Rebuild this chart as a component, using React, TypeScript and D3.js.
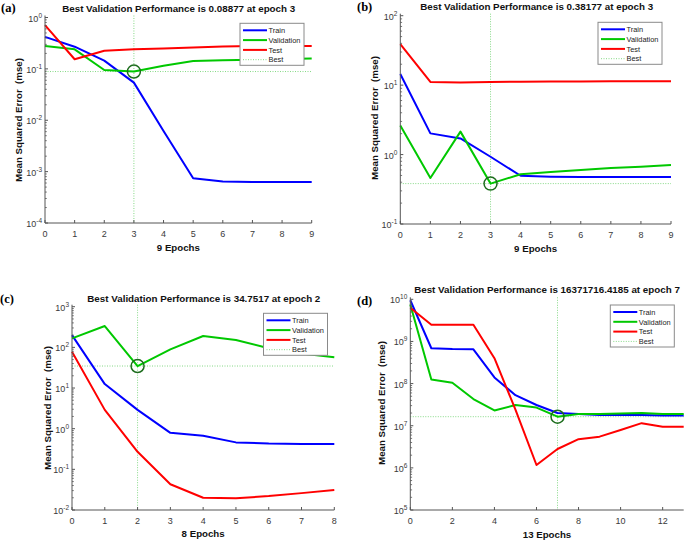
import React from 'react';
import * as d3 from 'd3';

// ---------- data ----------
const seriesNames = ['Train', 'Validation', 'Test', 'Best'];

const trainA = [0.42, 0.27, 0.145, 0.054, 0.0062, 0.00074, 0.00064, 0.00063, 0.00063, 0.00063];
const valA = [0.28, 0.24, 0.095, 0.08877, 0.115, 0.142, 0.148, 0.151, 0.155, 0.16];
const testA = [0.71, 0.154, 0.225, 0.24, 0.25, 0.262, 0.272, 0.278, 0.28, 0.28];

const trainB = [14.5, 2.02, 1.71, 0.93, 0.495, 0.48, 0.475, 0.475, 0.475, 0.475];
const valB = [2.63, 0.46, 2.14, 0.38177, 0.52, 0.56, 0.6, 0.64, 0.67, 0.71];
const testB = [39, 11.1, 10.9, 11.1, 11.2, 11.3, 11.3, 11.4, 11.4, 11.4];

const trainC = [200, 12.5, 2.9, 0.79, 0.67, 0.46, 0.43, 0.42, 0.42];
const valC = [166, 335, 34.7517, 89, 190, 151, 95, 71, 57];
const testC = [78, 2.9, 0.27, 0.043, 0.02, 0.0195, 0.022, 0.026, 0.031];

const trainD = [9.5e9, 6.9e8, 6.6e8, 6.5e8, 1.4e8, 5.3e7, 3.1e7, 2.0e7, 1.9e7, 1.8e7, 1.8e7, 1.8e7, 1.75e7, 1.75e7];
const valD = [7.5e9, 1.25e8, 1.05e8, 4.3e7, 2.3e7, 3.1e7, 2.7e7, 16371716.4185, 1.9e7, 1.9e7, 1.95e7, 2.0e7, 1.9e7, 1.9e7];
const testD = [6.3e9, 2.5e9, 2.5e9, 2.5e9, 4e8, 2.4e7, 1.17e6, 2.8e6, 4.8e6, 5.5e6, 7.9e6, 1.15e7, 9.5e6, 9.5e6];

const bestA = { epoch: 3, value: 0.08877 };
const bestB = { epoch: 3, value: 0.38177 };
const bestC = { epoch: 2, value: 34.7517 };
const bestD = { epoch: 7, value: 16371716.4185 };

const titlesList = [
  'Best Validation Performance is 0.08877 at epoch 3',
  'Best Validation Performance is 0.38177 at epoch 3',
  'Best Validation Performance is 34.7517 at epoch 2',
  'Best Validation Performance is 16371716.4185 at epoch 7',
];
const xLabels = ['9 Epochs', '9 Epochs', '8 Epochs', '13 Epochs'];
const panelLabels = ['(a)', '(b)', '(c)', '(d)'];

const xTicksA = [0, 1, 2, 3, 4, 5, 6, 7, 8, 9];
const xTicksC = [0, 1, 2, 3, 4, 5, 6, 7, 8];
const xTicksD = [0, 2, 4, 6, 8, 10, 12];
const yExpA = [-4, -3, -2, -1, 0];
const yExpB = [-1, 0, 1, 2];
const yExpC = [-2, -1, 0, 1, 2, 3];
const yExpD = [5, 6, 7, 8, 9, 10];
const minorMultipliers = [2, 3, 4, 5, 6, 7, 8, 9];

// ---------- styles ----------
const COLORS = { train: '#0000ff', val: '#00c800', test: '#ff0000', best: '#86d986', circle: '#1d6d1d' };
const SANS = '"Liberation Sans", Arial, sans-serif';
const SERIF = '"Liberation Serif", "Times New Roman", serif';

type Layout = {
  left: number; right: number; top: number; bottom: number; xMax: number;
  titleX: number; titleY: number; labelX: number; labelY: number;
  ylabX: number; ylabY: number; tickY: number; xlabY: number;
  legX: number; legY: number;
};

const layouts: Layout[] = [
  { left: 45, right: 311.7, top: 17.5, bottom: 223, xMax: 9, titleX: 178.7, titleY: 11.5, labelX: 1, labelY: 12, ylabX: 22, ylabY: 120, tickY: 236.5, xlabY: 250.5, legX: 240, legY: 23.3 },
  { left: 400.3, right: 671, top: 15.7, bottom: 224, xMax: 9, titleX: 536.7, titleY: 10.2, labelX: 357, labelY: 11, ylabX: 377.5, ylabY: 118, tickY: 237.8, xlabY: 252, legX: 598, legY: 22.3 },
  { left: 72, right: 334.3, top: 306.7, bottom: 510, xMax: 8, titleX: 203.8, titleY: 301.5, labelX: 0, labelY: 303, ylabX: 50.5, ylabY: 408, tickY: 524.2, xlabY: 537, legX: 263.5, legY: 313.3 },
  { left: 410.3, right: 683.7, top: 299.3, bottom: 510, xMax: 13, titleX: 547, titleY: 292.5, labelX: 357, labelY: 305, ylabX: 385, ylabY: 403, tickY: 524.2, xlabY: 538, legX: 610.3, legY: 305 },
];

type PanelProps = {
  idx: number; train: number[]; val: number[]; test: number[];
  best: { epoch: number; value: number }; xTicks: number[]; yExps: number[];
};

function Panel({ idx, train, val, test, best, xTicks, yExps }: PanelProps) {
  const L = layouts[idx];
  const x = d3.scaleLinear().domain([0, L.xMax]).range([L.left, L.right]);
  const y = d3.scaleLog().domain([Math.pow(10, yExps[0]), Math.pow(10, yExps[yExps.length - 1])]).range([L.bottom, L.top]);
  const line = d3.line<number>().x((_, i) => x(i)).y((d) => y(d));
  const axisColor = '#555';
  const tickColor = '#3a3a3a';
  const minors: number[] = [];
  yExps.slice(0, -1).forEach((e) => minorMultipliers.forEach((m) => minors.push(m * Math.pow(10, e))));
  const legendEntries = [
    { name: seriesNames[0], color: COLORS.train, dash: undefined as string | undefined, w: 2 },
    { name: seriesNames[1], color: COLORS.val, dash: undefined, w: 2 },
    { name: seriesNames[2], color: COLORS.test, dash: undefined, w: 2 },
    { name: seriesNames[3], color: COLORS.best, dash: '1 1.5', w: 1 },
  ];
  const legW = 64;
  const legH = 42;
  return (
    <g>
      {/* best markers */}
      <line x1={x(best.epoch)} x2={x(best.epoch)} y1={L.top - 2} y2={L.bottom} stroke={COLORS.best} strokeWidth={1} strokeDasharray="1 1.5" />
      <line x1={L.left} x2={L.right} y1={y(best.value)} y2={y(best.value)} stroke={COLORS.best} strokeWidth={1} strokeDasharray="1 1.5" />
      {/* series */}
      <path d={line(train) || ''} fill="none" stroke={COLORS.train} strokeWidth={2} strokeLinejoin="round" />
      <path d={line(val) || ''} fill="none" stroke={COLORS.val} strokeWidth={2} strokeLinejoin="round" />
      <path d={line(test) || ''} fill="none" stroke={COLORS.test} strokeWidth={2} strokeLinejoin="round" />
      <circle cx={x(best.epoch)} cy={y(best.value)} r={6.5} fill="none" stroke={COLORS.circle} strokeWidth={1.5} />
      {/* axes */}
      <line x1={L.left} x2={L.right} y1={L.bottom} y2={L.bottom} stroke={axisColor} strokeWidth={1} />
      <line x1={L.left} x2={L.left} y1={L.bottom} y2={L.top - 2} stroke={axisColor} strokeWidth={1} />
      {xTicks.map((t) => (
        <g key={'xt' + t}>
          <line x1={x(t)} x2={x(t)} y1={L.bottom} y2={L.bottom - 3} stroke={axisColor} strokeWidth={1} />
          <text x={x(t)} y={L.tickY} textAnchor="middle" fontFamily={SANS} fontSize={9} fill={tickColor}>{t}</text>
        </g>
      ))}
      {minors.map((v) => (
        <line key={'mn' + v} x1={L.left} x2={L.left + 1.8} y1={y(v)} y2={y(v)} stroke={axisColor} strokeWidth={0.8} />
      ))}
      {yExps.map((e) => (
        <g key={'yt' + e}>
          <line x1={L.left} x2={L.left + 3} y1={y(Math.pow(10, e))} y2={y(Math.pow(10, e))} stroke={axisColor} strokeWidth={1} />
          <text x={L.left - 3} y={y(Math.pow(10, e)) + 4} textAnchor="end" fontFamily={SANS} fontSize={9} fill={tickColor}>
            10<tspan dy={-4} fontSize={6.5}>{e}</tspan>
          </text>
        </g>
      ))}
      {/* labels */}
      <text x={L.titleX} y={L.titleY} textAnchor="middle" fontFamily={SANS} fontWeight="bold" fontSize={9.8} fill="#111">{titlesList[idx]}</text>
      <text x={x(L.xMax / 2)} y={L.xlabY} textAnchor="middle" fontFamily={SANS} fontWeight="bold" fontSize={9.7} fill="#111">{xLabels[idx]}</text>
      <text transform={`translate(${L.ylabX},${L.ylabY}) rotate(-90)`} textAnchor="middle" fontFamily={SANS} fontWeight="bold" fontSize={9.7} fill="#111" style={{ whiteSpace: 'pre' }}>{'Mean Squared Error  (mse)'}</text>
      <text x={L.labelX} y={L.labelY} fontFamily={SERIF} fontWeight="bold" fontSize={12.5} fill="#000">{panelLabels[idx]}</text>
      {/* legend */}
      <rect x={L.legX} y={L.legY} width={legW} height={legH} fill="#fff" stroke="#8a8a8a" strokeWidth={1} />
      {legendEntries.map((en, i) => {
        const yy = L.legY + 7 + i * 9.8;
        return (
          <g key={en.name}>
            <line x1={L.legX + 3} x2={L.legX + 27} y1={yy} y2={yy} stroke={en.color} strokeWidth={en.w} strokeDasharray={en.dash} />
            <text x={L.legX + 28.5} y={yy + 2.7} fontFamily={SANS} fontSize={7.4} fill="#222">{en.name}</text>
          </g>
        );
      })}
    </g>
  );
}

export default function App() {
  return (
    <svg width={685} height={540} style={{ position: 'absolute', left: 0, top: 0, background: '#fff' }}>
      <rect x={0} y={0} width={685} height={540} fill="#fff" />
      <Panel idx={0} train={trainA} val={valA} test={testA} best={bestA} xTicks={xTicksA} yExps={yExpA} />
      <Panel idx={1} train={trainB} val={valB} test={testB} best={bestB} xTicks={xTicksA} yExps={yExpB} />
      <Panel idx={2} train={trainC} val={valC} test={testC} best={bestC} xTicks={xTicksC} yExps={yExpC} />
      <Panel idx={3} train={trainD} val={valD} test={testD} best={bestD} xTicks={xTicksD} yExps={yExpD} />
    </svg>
  );
}
